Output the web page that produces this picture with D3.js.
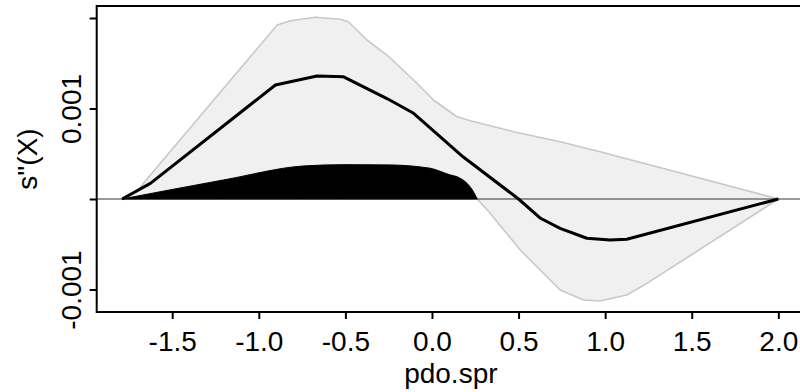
<!DOCTYPE html>
<html>
<head>
<meta charset="utf-8">
<script src="https://cdn.jsdelivr.net/npm/d3@7"></script>
<style>
  body { margin: 0; background: #fff; }
  text { font-family: "Liberation Sans", Arial, Helvetica, sans-serif; fill: #000; }
</style>
</head>
<body>
<div id="chart"></div>
<script>
// derivative estimate
const meanX = [-1.789, -1.626, -0.904, -0.664, -0.510, -0.260, -0.106, 0.181, 0.5, 0.627, 0.740, 0.894, 1.029, 1.125, 2.0];
const meanY = [0, 0.000173, 0.00126, 0.00136, 0.00135, 0.00111, 0.000947, 0.000464, 0, -0.000213, -0.000324, -0.000434, -0.000453, -0.000445, 0];

const upperX = [-1.789, -1.70, -1.626, -0.894, -0.818, -0.673, -0.529, -0.483, -0.375, -0.260, -0.106, 0.009, 0.144, 0.221, 0.471, 0.740, 0.971, 2.0];
const upperY = [0, 0.000095, 0.000265, 0.001923, 0.00197, 0.002008, 0.001986, 0.001959, 0.001757, 0.001591, 0.001315, 0.001094, 0.000909, 0.000865, 0.000744, 0.000633, 0.000523, 0];

const lowerX = [-1.789, -1.203, -0.741, -0.510, -0.241, -0.010, 0.106, 0.144, 0.202, 0.233, 0.261, 0.336, 0.510, 0.740, 0.875, 0.971, 1.125, 1.241, 2.0];
const lowerY = [0, 0.00021, 0.000365, 0.000379, 0.000376, 0.000339, 0.000265, 0.000246, 0.000173, 0.0000994, 0, -0.000158, -0.000564, -0.001006, -0.001116, -0.001127, -0.001061, -0.000932, 0];

const xTicks = [-1.5, -1.0, -0.5, 0.0, 0.5, 1.0, 1.5, 2.0];
const yTicks = [-0.001, 0, 0.001, 0.002];
const yLabelled = [-0.001, 0.001];

const width = 800, height = 392;
const box = { left: 96.7, right: 805, top: 6, bottom: 312 };

const svg = d3.select("#chart")
  .append("svg")
  .attr("width", width)
  .attr("height", height);

const x = d3.scaleLinear()
  .domain([-1.936, 2.154])
  .range([box.left, box.right]);

const y = d3.scaleLinear()
  .domain([-0.0012486, 0.0021326])
  .range([box.bottom, box.top]);

const zip = (xs, ys) => xs.map((v, i) => ({ x: v, y: ys[i] }));
const mean = zip(meanX, meanY);
const upper = zip(upperX, upperY);
const lower = zip(lowerX, lowerY);

const line = d3.line()
  .x((d) => x(d.x))
  .y((d) => y(d.y));

// confidence band: upper forwards, lower backwards
const band = upper.concat(lower.slice().reverse());
svg.append("path")
  .attr("d", line(band) + "Z")
  .style("fill", "#f0f0f0")
  .style("stroke", "#c8c8c8")
  .style("stroke-width", 1.6)
  .style("stroke-linejoin", "round");

// zero line
svg.append("line")
  .attr("x1", box.left)
  .attr("x2", box.right)
  .attr("y1", y(0))
  .attr("y2", y(0))
  .style("stroke", "#333")
  .style("stroke-width", 1);

// where the band stays above zero
const positive = lower.filter((d) => d.y >= 0 && d.x <= 0.261);
svg.append("path")
  .attr("d", d3.area()
    .x((d) => x(d.x))
    .y0(y(0))
    .y1((d) => y(d.y))
    .curve(d3.curveMonotoneX)(positive))
  .style("fill", "#000")
  .style("stroke", "#000")
  .style("stroke-width", 1);

svg.append("path")
  .attr("d", line(mean))
  .style("fill", "none")
  .style("stroke", "#000")
  .style("stroke-width", 3)
  .style("stroke-linejoin", "round");

// frame
svg.append("rect")
  .attr("x", box.left)
  .attr("y", box.top)
  .attr("width", box.right - box.left)
  .attr("height", box.bottom - box.top)
  .style("fill", "none")
  .style("stroke", "#000")
  .style("stroke-width", 2);

const xAxis = svg.append("g")
  .attr("transform", `translate(0,${box.bottom})`)
  .call(d3.axisBottom(x).tickValues(xTicks).tickSize(7).tickFormat((d) => d.toFixed(1)));
xAxis.select(".domain").remove();
xAxis.selectAll(".tick line").style("stroke", "#000").style("stroke-width", 2);
xAxis.selectAll(".tick text")
  .attr("y", 39)
  .attr("dy", null)
  .style("font-size", "28px")
  .style("fill", "#000");

const yAxis = svg.append("g")
  .attr("transform", `translate(${box.left},0)`)
  .call(d3.axisLeft(y).tickValues(yTicks).tickSize(7)
    .tickFormat((d) => yLabelled.includes(d) ? String(d) : ""));
yAxis.select(".domain").remove();
yAxis.selectAll(".tick line").style("stroke", "#000").style("stroke-width", 2);
yAxis.selectAll(".tick text")
  .attr("transform", "rotate(-90)")
  .attr("x", 0)
  .attr("y", -16)
  .attr("dy", null)
  .style("text-anchor", "middle")
  .style("font-size", "28px")
  .style("fill", "#000");

svg.append("text")
  .attr("x", (box.left + box.right) / 2)
  .attr("y", 383)
  .style("text-anchor", "middle")
  .style("font-size", "28px")
  .text("pdo.spr");

svg.append("text")
  .attr("transform", `translate(37,${(box.top + box.bottom) / 2}) rotate(-90)`)
  .style("text-anchor", "middle")
  .style("font-size", "28px")
  .text('s"(X)');
</script>
</body>
</html>
